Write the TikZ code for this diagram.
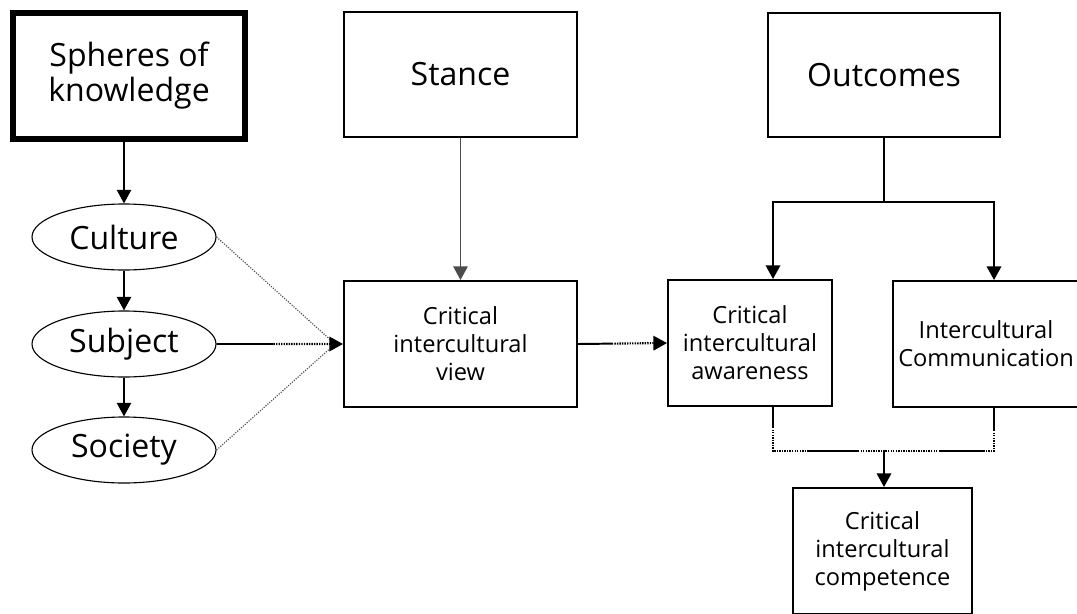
\documentclass[tikz,border=0pt]{standalone}
\usepackage{fontspec}
\setmainfont{Open Sans}
\usetikzlibrary{arrows.meta,shapes.geometric,calc}
\tikzset{
    box/.style={draw, line width=1.4pt, inner sep=0pt, align=center,
        font=\fontsize{16.8}{19.9}\selectfont, minimum height=31.5mm},
    bigbox/.style={box, font=\fontsize{22.8}{25}\selectfont,
        minimum width=58.25mm, minimum height=31.25mm},
    oval/.style={ellipse, draw, line width=0.8pt, inner sep=0pt,
        minimum width=46mm, minimum height=16.5mm,
        font=\fontsize{22.8}{25}\selectfont},
    arrowhd/.style={-{Triangle[length=3.4mm,width=3.6mm]}},
    solidlink/.style={line width=1.4pt},
    dotlink/.style={line width=1.5pt, dash pattern=on 1pt off 0.8pt},
    faintlink/.style={line width=0.8pt, gray!55!black, dash pattern=on 0.8pt off 1pt},
}

\begin{document}
\begin{tikzpicture}[x=0.25mm, y=-0.25mm]
\useasboundingbox (0,0) rectangle (1077,613);

% top row
\node[bigbox, line width=4pt, minimum width=58.1mm, minimum height=31.6mm] (spheres) at (129,76) {Spheres of\\knowledge};
\node[bigbox] (stance) at (460.5,74.5) {Stance};
\node[bigbox, minimum width=58mm, minimum height=31mm] (outcomes) at (884,75) {Outcomes};

% spheres of knowledge
\node[oval] (culture) at (124,237) {Culture};
\node[oval] (subject) at (124,344) {Subject};
\node[oval] (society) at (124,450) {Society};

% views and outcomes
\node[box, minimum width=58.25mm] (view) at (460.5,344) {Critical\\intercultural\\view};
\node[box, minimum width=41mm] (aware) at (750,343) {Critical\\intercultural\\awareness};
\node[box, minimum width=46.5mm] (comm) at (986,344) {Intercultural\\Communication};
\node[box, minimum width=44.75mm] (compet) at (882.5,551) {Critical\\intercultural\\competence};

% left column
\draw[arrowhd, line width=1pt] (culture.north |- spheres.south) -- (culture.north);
\draw[arrowhd, line width=1pt] (culture) -- (subject);
\draw[arrowhd, line width=1pt] (subject) -- (society);
\draw[arrowhd, line width=1pt, gray!60!black] (stance) -- (view);

\coordinate (meet) at ($(view.west)+(-8,0)$);
\draw[faintlink] (culture.east) -- (meet);
\draw[faintlink] (society.east) -- (meet);

\draw[solidlink] (subject.east) -- ($(subject.east)!0.45!(view.west)$);
\draw[dotlink, arrowhd] ($(subject.east)!0.45!(view.west)$) -- (view.west);
\draw[solidlink] (view.east) -- ($(view.east)!0.38!(aware.west)$);
\draw[dotlink, arrowhd] ($(view.east)!0.38!(aware.west)$) -- (aware.west);

% outcomes split
\coordinate (split) at ($(outcomes.south)+(0,64)$);
\coordinate (awtop) at ($(aware.north)+(23,0)$);
\coordinate (cmtop) at ($(comm.north)+(8,0)$);
\draw[solidlink] (outcomes) -- (split);
\draw[solidlink, arrowhd] (split) -| (awtop);
\draw[solidlink, arrowhd] (split) -| (cmtop);

% join into competence
\coordinate (awbot) at ($(aware.south)+(23,0)$);
\coordinate (cmbot) at ($(comm.south)+(8,0)$);
\coordinate (join) at ($(compet.north)+(1.5,-36)$);
\draw[solidlink] (awbot) -- ++(0,20);
\draw[dotlink] ($(awbot)+(0,20)$) -- (awbot |- join) -- ++(35,0);
\draw[solidlink] ($(awbot |- join)+(35,0)$) -- ++(50,0);
\draw[dotlink] ($(awbot |- join)+(85,0)$) -- (join);
\draw[solidlink] (cmbot) -- ++(0,22);
\draw[dotlink] ($(cmbot)+(0,22)$) -- (cmbot |- join) -- ++(-12,0);
\draw[solidlink] ($(cmbot |- join)+(-12,0)$) -- ++(-42,0);
\draw[dotlink] ($(cmbot |- join)+(-54,0)$) -- (join);
\draw[solidlink, arrowhd] (join) -- (join |- compet.north);
\end{tikzpicture}
\end{document}
